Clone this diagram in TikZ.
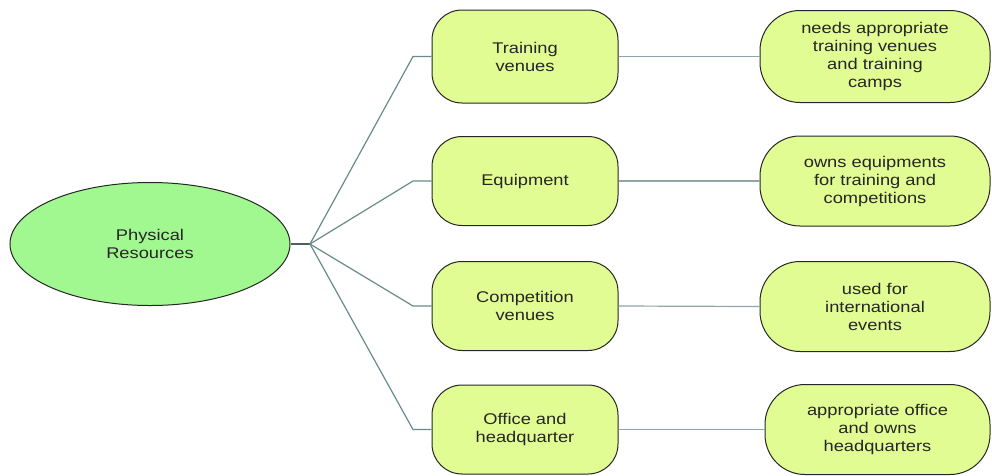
\documentclass[tikz,border=0pt]{standalone}
\usepackage{fontspec}
\setmainfont{Liberation Sans}[FakeStretch=1.18]
\usetikzlibrary{shapes.geometric}
\definecolor{rootfill}{HTML}{A2F890}
\definecolor{boxfill}{HTML}{E0FC92}
\definecolor{linkcol}{HTML}{6A8A8A}
\definecolor{hlinecol}{HTML}{8FA5A8}
\tikzset{
  txt/.style={font=\fontsize{15.5}{18}\selectfont, align=center, text=black!85},
  rootnode/.style={ellipse, draw=black!85, line width=1pt, fill=rootfill, minimum width=280pt, minimum height=123pt, txt},
  midbox/.style={draw=black!85, line width=1pt, fill=boxfill, rounded corners=30pt, minimum width=186pt, minimum height=89pt, txt},
  rbox/.style={draw=black!85, line width=1pt, fill=boxfill, rounded corners=40pt, minimum width=230pt, minimum height=90pt, txt},
  link/.style={draw=linkcol, line width=1.2pt},
  hlink/.style={draw=hlinecol, line width=1.2pt}
}
\begin{document}
\begin{tikzpicture}[x=1pt,y=-1pt]
\useasboundingbox (0,0) rectangle (992,475);
\node[rootnode] (root) at (150,244) {Physical\\Resources};
\coordinate (j) at (310,244);
\node[midbox, minimum height=93pt] (m1) at (525,56.5) {Training\\venues};
\node[midbox] (m2) at (525,181) {Equipment};
\node[midbox] (m3) at (525,306) {Competition\\venues};
\node[midbox] (m4) at (525,429.5) {Office and\\headquarter};
\node[rbox, minimum height=92pt] (r1) at (875,56.5) {needs appropriate\\training venues\\and training\\camps};
\node[rbox] (r2) at (875,181) {owns equipments\\for training and\\competitions};
\node[rbox] (r3) at (875,306.5) {used for\\international\\events};
\node[rbox, minimum width=225pt] (r4) at (877.5,429.5) {appropriate office\\and owns\\headquarters};
\coordinate (k1) at (413,56.5);
\coordinate (k2) at (413,181);
\coordinate (k3) at (413,306);
\coordinate (k4) at (413,429.5);
\draw[draw=linkcol!70!black, line width=2.5pt] (root.east) -- (j);
\draw[link] (j) -- (k1) -- (m1.west);
\draw[link] (j) -- (k2) -- (m2.west);
\draw[link] (j) -- (k3) -- (m3.west);
\draw[link] (j) -- (k4) -- (m4.west);
\draw[hlink] (m1.east) -- (r1.west);
\draw[hlink] (m2.east) -- (r2.west);
\draw[hlink] (m3.east) -- (r3.west);
\draw[hlink] (m4.east) -- (r4.west);
\end{tikzpicture}
\end{document}
